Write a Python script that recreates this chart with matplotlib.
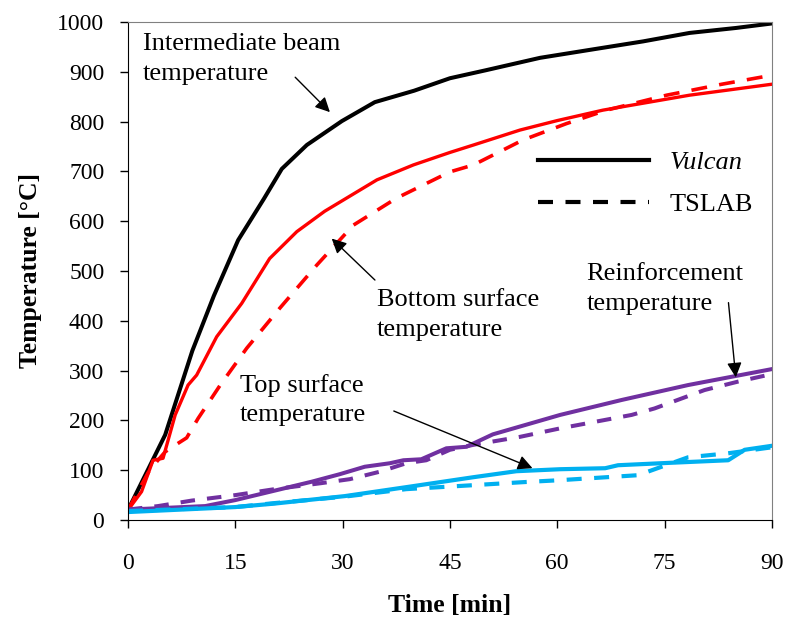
import matplotlib
matplotlib.use("Agg")
import matplotlib.pyplot as plt
from matplotlib.lines import Line2D

plt.rcParams['font.family'] = ['Liberation Serif', 'DejaVu Serif']

# Intermediate beam (Vulcan)
beam_t = [0, 5.2, 9, 12, 15.4, 19, 21.5, 25, 29.9, 34.5, 40, 45, 50, 57.6, 65, 72, 78.5, 85, 90]
beam_T = [20, 171, 340, 450, 562, 645, 705, 753, 801, 839, 862, 887, 903, 928, 945, 961, 978, 988, 997]

# Bottom surface
bot_v_t = [0, 1.9, 3.5, 4.9, 6.6, 8.4, 9.6, 12.4, 15.9, 19.8, 23.6, 27.5, 34.8, 39.9, 45, 48.3, 54.8, 60, 66.4, 78.5, 90]
bot_v_T = [20, 57, 120, 124, 211, 271, 291, 368, 435, 525, 579, 620, 683, 713, 738, 753, 783, 802, 823, 853, 875]
bot_s_t = [0, 3, 5.2, 7, 8.2, 9.8, 12.9, 16.6, 21.2, 26.4, 31.5, 37.5, 45, 48.3, 55.2, 61.3, 66.9, 75.3, 83, 90]
bot_s_T = [20, 100, 137, 154, 165, 204, 271, 345, 425, 512, 592, 646, 699, 713, 763, 796, 823, 853, 875, 893]

# Reinforcement
reb_v_t = [0, 10.8, 15, 20.5, 25.7, 29.6, 33.1, 36.6, 38.5, 41, 44.5, 47.3, 51, 60.4, 69, 78.3, 90]
reb_v_T = [21, 28, 40, 59, 77, 92, 107, 114, 120, 122, 144, 147, 172, 211, 241, 271, 303]
reb_s_t = [0, 4.2, 8.9, 15, 20.5, 27, 31, 35.2, 38.9, 41.7, 45, 48.3, 54.8, 60.4, 70.4, 73.6, 80.6, 85.3, 90]
reb_s_T = [21, 28, 39, 50, 62, 74, 82, 97, 114, 120, 141, 151, 167, 184, 211, 224, 261, 278, 293]

# Top surface
top_v_t = [0, 15, 20.5, 30.3, 38.9, 48.3, 54.3, 60.4, 66.7, 68.5, 76, 83.9, 86.2, 90]
top_v_T = [16, 26, 33, 48, 66, 86, 98, 102, 104, 110, 115, 120, 141, 149]
top_s_t = [0, 15, 20.5, 30.3, 38.9, 43.6, 48.3, 55.2, 60.4, 71.3, 74.6, 78.3, 83.9, 90]
top_s_T = [18, 26, 34, 47, 62, 66, 70, 76, 80, 90, 107, 126, 134, 146]

xticks = [0, 15, 30, 45, 60, 75, 90]
yticks = [0, 100, 200, 300, 400, 500, 600, 700, 800, 900, 1000]

RED = '#FF0000'
PURPLE = '#7030A0'
BLUE = '#00B0F0'
DASH = (0, (3.6, 3.0))
DASH_R = (0, (4.4, 3.4))

fig = plt.figure(figsize=(7.9, 6.26), dpi=100)
ax = fig.add_axes([0.162, 0.1693, 0.815, 0.7956])

ax.plot(beam_t, beam_T, color='black', lw=2.9)
ax.plot(bot_v_t, bot_v_T, color=RED, lw=2.4)
ax.plot(bot_s_t, bot_s_T, color=RED, lw=2.6, linestyle=DASH_R)
ax.plot(reb_v_t, reb_v_T, color=PURPLE, lw=2.9)
ax.plot(reb_s_t, reb_s_T, color=PURPLE, lw=2.9, linestyle=DASH)
ax.plot(top_v_t, top_v_T, color=BLUE, lw=3.0)
ax.plot(top_s_t, top_s_T, color=BLUE, lw=3.0, linestyle=DASH)

ax.set_xlim(0, 90)
ax.set_ylim(0, 1000)
ax.set_xticks(xticks)
ax.set_yticks(yticks)
ax.tick_params(axis='both', direction='out', length=6, width=1, labelsize=17)
ax.tick_params(axis='x', pad=18)
ax.tick_params(axis='y', pad=11)
for s in ['top', 'right']:
    ax.spines[s].set_color('#808080')
for s in ['left', 'bottom']:
    ax.spines[s].set_color('black')
ax.set_xlabel('Time [min]', fontsize=18.5, fontweight='bold', labelpad=14)
ax.set_ylabel('Temperature [°C]', fontsize=18.5, fontweight='bold', labelpad=11)

fs = 19
ls = 1.45
arrow = dict(arrowstyle='-|>', color='black', lw=1, mutation_scale=22)
ax.text(2.1, 978, 'Intermediate beam\ntemperature', fontsize=fs, va='top', ha='left', linespacing=ls)
ax.annotate('', xy=(28.5, 815), xytext=(23.1, 893), arrowprops=arrow)

ax.text(34.8, 464, 'Bottom surface\ntemperature', fontsize=fs, va='top', ha='left', linespacing=ls)
ax.annotate('', xy=(28.2, 569), xytext=(34.8, 478), arrowprops=arrow)

ax.text(15.6, 294, 'Top surface\ntemperature', fontsize=fs, va='top', ha='left', linespacing=ls)
ax.annotate('', xy=(56.9, 102), xytext=(36.8, 221), arrowprops=arrow)

ax.text(64.1, 516, 'Reinforcement\ntemperature', fontsize=fs, va='top', ha='left', linespacing=ls)
ax.annotate('', xy=(85.0, 281), xytext=(83.9, 442), arrowprops=arrow)

handles = [Line2D([], [], color='black', lw=3.0),
           Line2D([], [], color='black', lw=3.0, linestyle=DASH)]
leg = ax.legend(handles, ['Vulcan', 'TSLAB'], loc='upper left', bbox_to_anchor=(0.637, 0.742),
                frameon=False, fontsize=fs, handlelength=4.2, handletextpad=0.8,
                labelspacing=0.7, borderpad=0, borderaxespad=0)
leg.get_texts()[0].set_style('italic')

fig.savefig('out.png', dpi=100)
